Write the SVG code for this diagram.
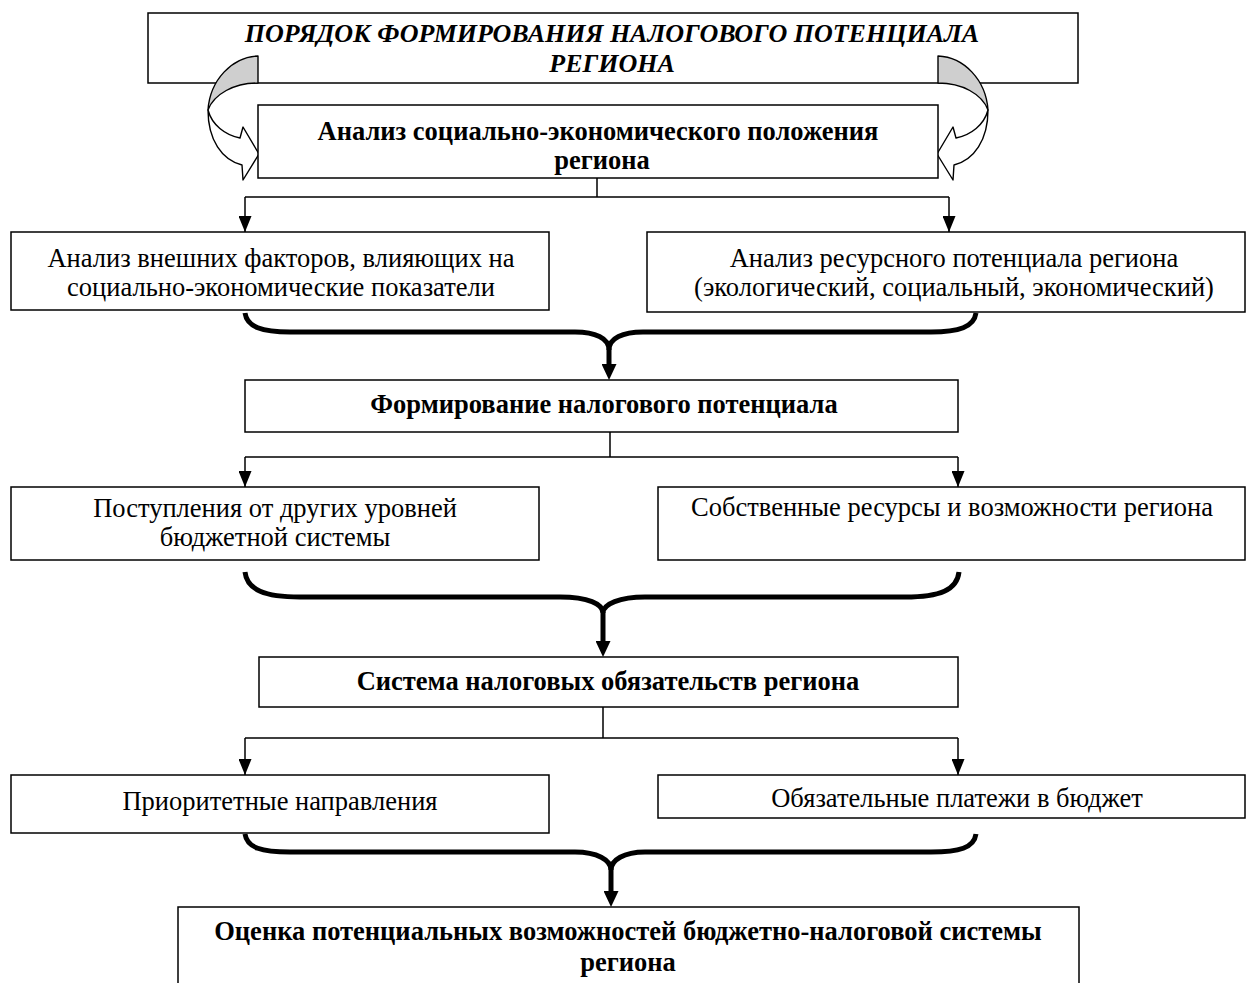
<svg xmlns="http://www.w3.org/2000/svg" width="1247" height="983" viewBox="0 0 1247 983">
<style>
.box{fill:#fff;stroke:#000;stroke-width:1.5}
.t{font-family:"Liberation Serif","Times New Roman",serif;font-size:26.5px;text-anchor:middle;fill:#000}
.b{font-weight:bold}
.ti{font-weight:bold;font-style:italic;font-size:26px}
.thin{fill:none;stroke:#000;stroke-width:1.5}
.brace{fill:none;stroke:#000;stroke-width:5}
.ca{stroke:#000;stroke-width:1.4;stroke-linejoin:round}
</style>
<defs>
<marker id="ah" markerUnits="userSpaceOnUse" markerWidth="17" markerHeight="13" refX="16" refY="6.5" orient="auto"><path d="M0,0 L16,6.5 L0,13 z" fill="#000"/></marker>
<marker id="ahb" markerUnits="userSpaceOnUse" markerWidth="18" markerHeight="15" refX="2" refY="7.5" orient="auto"><path d="M0,0 L16,7.5 L0,15 z" fill="#000"/></marker>
<g id="curl">
<path class="ca" fill="#fff" d="M208,110 C208,140 222,160 242,165 L243,180 L259,154 L243,127 L240,138 C225,135 212,125 208,110 Z"/>
<path class="ca" fill="#cfcfcf" d="M258,56 C232,57 210,80 208,110 C214,94 234,83 258,83 Z"/>
</g>
</defs>
<g id="title"><rect class="box" x="148" y="13" width="930" height="70"/>
<text class="t ti" x="612" y="42">ПОРЯДОК ФОРМИРОВАНИЯ НАЛОГОВОГО ПОТЕНЦИАЛА</text>
<text class="t ti" x="612" y="72">РЕГИОНА</text></g>
<g id="curl-left"><use href="#curl"/></g>
<g id="curl-right"><use href="#curl" transform="translate(1196,0) scale(-1,1)"/></g>
<g id="n-analysis"><rect class="box" x="258" y="105" width="680" height="73"/>
<text class="t b" x="598" y="140">Анализ социально-экономического положения</text>
<text class="t b" x="602" y="169">региона</text></g>
<g id="n-external"><rect class="box" x="11" y="232" width="538" height="78"/>
<text class="t" x="281" y="267">Анализ внешних факторов, влияющих на</text>
<text class="t" x="281" y="296">социально-экономические показатели</text></g>
<g id="n-resource"><rect class="box" x="647" y="232" width="598" height="80"/>
<text class="t" x="954" y="267">Анализ ресурсного потенциала региона</text>
<text class="t" x="954" y="296">(экологический, социальный, экономический)</text></g>
<g id="n-forming"><rect class="box" x="245" y="380" width="713" height="52"/>
<text class="t b" x="604" y="413">Формирование налогового потенциала</text></g>
<g id="n-transfers"><rect class="box" x="11" y="487" width="528" height="73"/>
<text class="t" x="275" y="517">Поступления от других уровней</text>
<text class="t" x="275" y="546">бюджетной системы</text></g>
<g id="n-own"><rect class="box" x="658" y="487" width="587" height="73"/>
<text class="t" x="952" y="516">Собственные ресурсы и возможности региона</text></g>
<g id="n-system"><rect class="box" x="259" y="657" width="699" height="50"/>
<text class="t b" x="608" y="690">Система налоговых обязательств региона</text></g>
<g id="n-priority"><rect class="box" x="11" y="775" width="538" height="58"/>
<text class="t" x="280" y="810">Приоритетные направления</text></g>
<g id="n-mandatory"><rect class="box" x="658" y="775" width="587" height="43"/>
<text class="t" x="957" y="807">Обязательные платежи в бюджет</text></g>
<g id="n-assessment"><rect class="box" x="178" y="907" width="901" height="100"/>
<text class="t b" x="628" y="940">Оценка потенциальных возможностей бюджетно-налоговой системы</text>
<text class="t b" x="628" y="971">региона</text></g>
<g id="connectors">
<path class="thin" d="M597,178 V197 M245,197 H949"/>
<path class="thin" marker-end="url(#ah)" d="M245,197 V232"/>
<path class="thin" marker-end="url(#ah)" d="M949,197 V232"/>
<path class="brace" d="M245,313 C247,327 262,332 290,332 H575 C595,332 609,338 609,350"/>
<path class="brace" d="M976,313 C974,327 959,332 931,332 H643 C623,332 609,338 609,350"/>
<path class="brace" marker-end="url(#ahb)" d="M609,350 V366"/>
<path class="thin" d="M610,432 V457 M245,457 H958"/>
<path class="thin" marker-end="url(#ah)" d="M245,457 V487"/>
<path class="thin" marker-end="url(#ah)" d="M958,457 V487"/>
<path class="brace" d="M245,572 C247,590 265,597 300,597 H560 C588,597 603,604 603,613"/>
<path class="brace" d="M959,572 C957,590 940,597 905,597 H645 C620,597 603,604 603,613"/>
<path class="brace" marker-end="url(#ahb)" d="M603,613 V643"/>
<path class="thin" d="M603,707 V738 M245,738 H958"/>
<path class="thin" marker-end="url(#ah)" d="M245,738 V775"/>
<path class="thin" marker-end="url(#ah)" d="M958,738 V775"/>
<path class="brace" d="M245,834 C247,848 262,852 290,852 H575 C597,852 611,860 611,870"/>
<path class="brace" d="M976,834 C974,848 959,852 931,852 H645 C624,852 611,860 611,870"/>
<path class="brace" marker-end="url(#ahb)" d="M611,870 V893"/>
</g>
</svg>
